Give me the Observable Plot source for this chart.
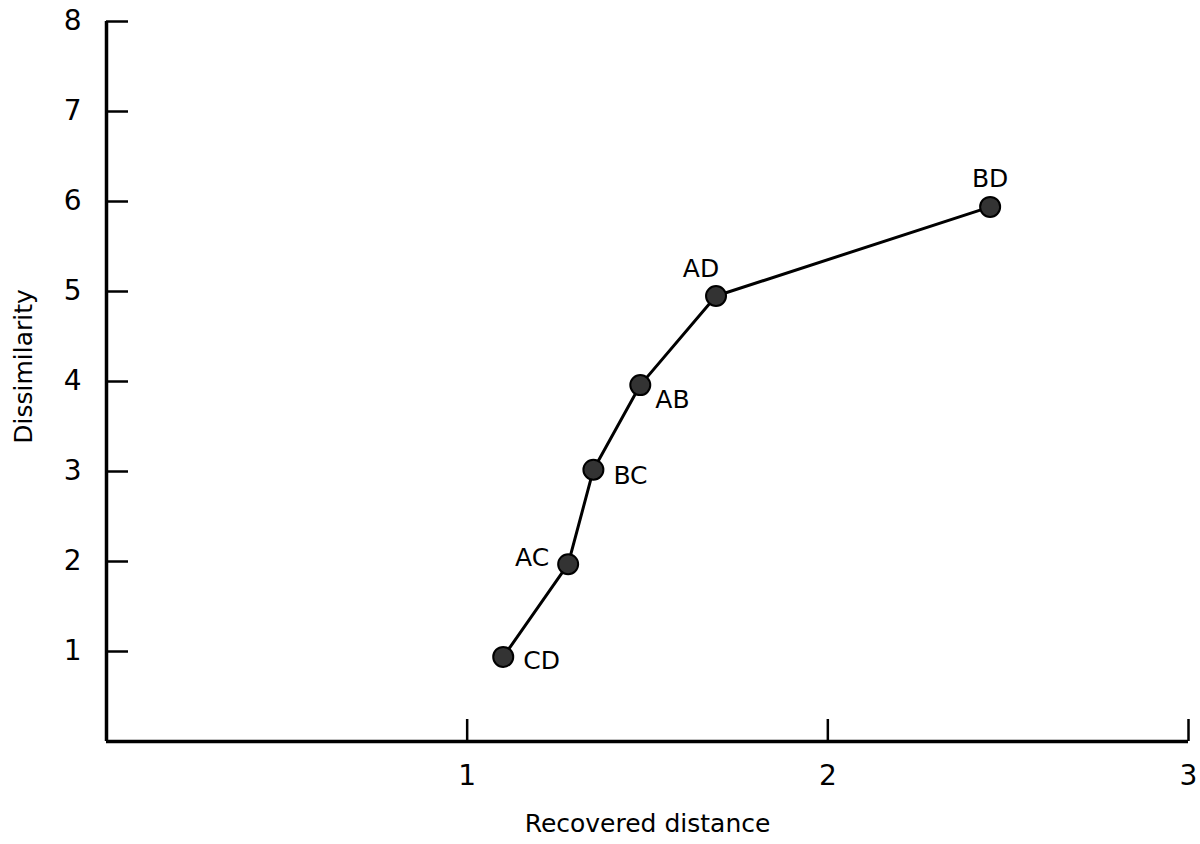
<!DOCTYPE html>
<html>
<head>
<meta charset="utf-8">
<script src="https://cdn.jsdelivr.net/npm/d3@7"></script>
<script src="https://cdn.jsdelivr.net/npm/@observablehq/plot@0.6"></script>
<style>
  html, body { margin: 0; padding: 0; background: #fff; }
  #chart { width: 1200px; height: 844px; }
</style>
</head>
<body>
<div id="chart"></div>
<script>
// Stimulus pairs, their recovered distances and rated dissimilarity
const pairs = ["CD", "AC", "BC", "AB", "AD", "BD"];
const recoveredDistance = [1.10, 1.28, 1.35, 1.48, 1.69, 2.45];
const dissimilarity = [0.94, 1.97, 3.02, 3.96, 4.95, 5.94];

// Axis ticks
const xTicks = [1, 2, 3];
const yTicks = [1, 2, 3, 4, 5, 6, 7, 8];

const points = pairs.map((p, i) => ({pair: p, x: recoveredDistance[i], y: dissimilarity[i]}));

// Where each pair's label sits around its marker
const labelPlacement = {
  CD: {dx: 20, dy: 4, textAnchor: "start"},
  AC: {dx: -19, dy: -6, textAnchor: "end"},
  BC: {dx: 20, dy: 6, textAnchor: "start"},
  AB: {dx: 15, dy: 15, textAnchor: "start"},
  AD: {dx: -15, dy: -27, textAnchor: "middle"},
  BD: {dx: 0, dy: -28, textAnchor: "middle"}
};

const W = 1200, H = 844;
const mL = 106, mR = 12, mT = 21, mB = 103;
const innerW = W - mL - mR, innerH = H - mT - mB;
const tickLen = 22;

const labelMarks = pairs.map(p => Plot.text(points.filter(d => d.pair === p), {
  x: "x", y: "y", text: "pair",
  fontSize: 25, fill: "black",
  ...labelPlacement[p]
}));

const chart = Plot.plot({
  width: W,
  height: H,
  marginLeft: mL,
  marginRight: mR,
  marginTop: mT,
  marginBottom: mB,
  x: {domain: [0, 3]},
  y: {domain: [0, 8]},
  style: {fontFamily: "'DejaVu Sans', sans-serif", color: "black", background: "white"},
  marks: [
    // tick labels
    Plot.axisY({ticks: yTicks, tickFormat: "d", tickSize: 0, tickPadding: 25, fontSize: 28, label: null}),
    Plot.axisX({ticks: xTicks, tickFormat: "d", tickSize: 0, tickPadding: 24, fontSize: 28, label: null}),
    // inward tick marks
    Plot.tickY(yTicks, {y: d => d, insetRight: innerW - tickLen, stroke: "black", strokeWidth: 2.5}),
    Plot.tickX(xTicks, {x: d => d, insetTop: innerH - tickLen, stroke: "black", strokeWidth: 2.5}),
    // axis lines
    Plot.ruleX([0], {stroke: "black", strokeWidth: 3.5}),
    Plot.ruleY([0], {stroke: "black", strokeWidth: 3.5}),
    // axis titles
    Plot.text(["Recovered distance"], {frameAnchor: "bottom", dy: 90, fontSize: 25, fill: "black"}),
    Plot.text(["Dissimilarity"], {frameAnchor: "left", textAnchor: "middle", dx: -83, dy: -15, rotate: -90, fontSize: 25, fill: "black"}),
    // connecting line and markers
    Plot.line(points, {x: "x", y: "y", stroke: "black", strokeWidth: 3}),
    Plot.dot(points, {x: "x", y: "y", r: 10, fill: "#333", stroke: "black", strokeWidth: 2}),
    ...labelMarks
  ]
});

document.getElementById("chart").appendChild(chart);
</script>
</body>
</html>
